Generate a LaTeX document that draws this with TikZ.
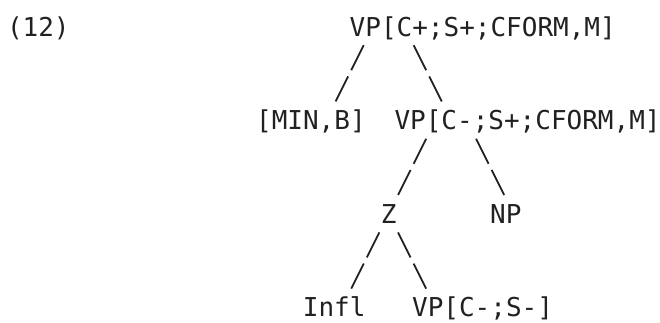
\documentclass[tikz,border=0pt]{standalone}
\usepackage{fontspec}
\newfontfamily\typewriter[Ligatures=NoCommon]{DejaVu Sans Mono}
\usetikzlibrary{calc}
\definecolor{ink}{gray}{0.13}
\begin{document}
% Typed phrase-structure tree: labels sit on a 15.6pt character grid,
% branches are drawn as pairs of slash strokes along one line.
\begin{tikzpicture}[x=1pt,y=-1pt,
  label/.style={inner sep=0pt, outer sep=0pt, anchor=base west,
    font=\typewriter\fontsize{26}{30}\selectfont, text=ink},
  branch/.style={draw=ink, line width=1.8pt,
    dash pattern=on 27.95pt off 6.93pt}]
\useasboundingbox (0,0) rectangle (660,322);

% labels (x = 6.5 + 15.6*column, baseline = 36 + 31.2*row)
\node[label] (ex)   at (7,36)        {(12)};
\node[label] (vp1)  at (349.7,36)    {VP[C+;S+;CFORM,M]};
\node[label] (min)  at (256.1,129.6) {[MIN,B]};
\node[label] (vp2)  at (394.5,129.6) {VP[C-;S+;CFORM,M]};
\node[label] (z)    at (380.9,223.2) {Z};
\node[label] (np)   at (490.1,223.2) {NP};
\node[label] (infl) at (302.9,316.8) {Infl};
\node[label] (vp3)  at (412.1,316.8) {VP[C-;S-]};

% branches
\draw[branch] ($(vp1.base west)+(14.05,9.2)$) -- ($(min.base west)+(79.55,-28.2)$);
\draw[branch] ($(vp1.base west)+(63.95,9.2)$) -- ($(vp2.base west)+(47.25,-28.2)$);
\draw[branch] ($(vp2.base west)+(31.65,9.2)$) -- ($(z.base west)+(17.15,-28.2)$);
\draw[branch] ($(vp2.base west)+(81.55,9.2)$) -- ($(np.base west)+(14.05,-28.2)$);
\draw[branch] ($(z.base west)+(-1.55,9.2)$)   -- ($(infl.base west)+(48.35,-28.2)$);
\draw[branch] ($(z.base west)+(17.15,9.2)$)   -- ($(vp3.base west)+(14.05,-28.2)$);
\end{tikzpicture}
\end{document}
